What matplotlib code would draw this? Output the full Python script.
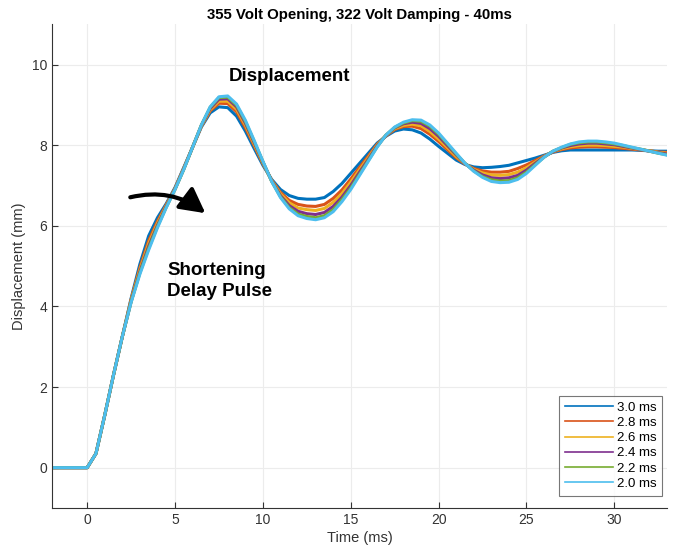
import numpy as np
import matplotlib
matplotlib.use('Agg')
import matplotlib.pyplot as plt

plt.rcParams['font.family'] = ['Liberation Sans', 'DejaVu Sans']

# time axis (ms), shared by every trace
time_ms = np.arange(-2, 33.01, 0.5)

labels = ['3.0 ms', '2.8 ms', '2.6 ms', '2.4 ms', '2.2 ms', '2.0 ms']
colors = ['#0072BD', '#D95319', '#EDB120', '#7E2F8E', '#77AC30', '#4DBEEE']

pre = [0, 0, 0, 0, 0, 0.35, 1.3, 2.3, 3.25]

disp_30 = pre + [4.2, 5.05, 5.75, 6.2, 6.55, 6.95, 7.45, 7.95, 8.45, 8.8, 8.95, 8.93, 8.72, 8.35, 7.92, 7.5,
                 7.15, 6.9, 6.75, 6.68, 6.66, 6.66, 6.7, 6.85, 7.05, 7.3, 7.55, 7.8, 8.05, 8.22, 8.35, 8.4,
                 8.38, 8.3, 8.15, 7.97, 7.8, 7.63, 7.52, 7.46, 7.44, 7.45, 7.47, 7.5, 7.56, 7.62, 7.68, 7.75,
                 7.82, 7.86, 7.88, 7.88, 7.88, 7.88, 7.88, 7.88, 7.88, 7.88, 7.87, 7.86, 7.85, 7.85]
disp_28 = pre + [4.17, 4.96, 5.63, 6.11, 6.52, 6.93, 7.43, 7.95, 8.47, 8.85, 9.04, 9.03, 8.83, 8.44, 7.99, 7.54,
                 7.13, 6.83, 6.63, 6.53, 6.49, 6.48, 6.53, 6.68, 6.89, 7.16, 7.45, 7.73, 8.02, 8.23, 8.39, 8.46,
                 8.47, 8.41, 8.27, 8.09, 7.89, 7.69, 7.53, 7.42, 7.36, 7.33, 7.33, 7.35, 7.42, 7.51, 7.62, 7.73,
                 7.83, 7.89, 7.93, 7.95, 7.96, 7.96, 7.95, 7.94, 7.92, 7.9, 7.88, 7.86, 7.83, 7.82]
disp_26 = pre + [4.15, 4.91, 5.56, 6.06, 6.5, 6.92, 7.42, 7.95, 8.48, 8.88, 9.09, 9.09, 8.89, 8.5, 8.03, 7.56,
                 7.12, 6.79, 6.57, 6.44, 6.4, 6.38, 6.43, 6.58, 6.8, 7.08, 7.39, 7.69, 8.0, 8.24, 8.41, 8.49,
                 8.52, 8.48, 8.34, 8.15, 7.94, 7.72, 7.54, 7.4, 7.31, 7.26, 7.25, 7.27, 7.33, 7.44, 7.58, 7.72,
                 7.84, 7.91, 7.96, 7.99, 8.0, 8.0, 7.99, 7.97, 7.95, 7.92, 7.89, 7.86, 7.82, 7.8]
disp_24 = pre + [4.12, 4.86, 5.49, 6.01, 6.48, 6.91, 7.41, 7.95, 8.49, 8.91, 9.14, 9.15, 8.95, 8.55, 8.07, 7.58,
                 7.11, 6.75, 6.5, 6.36, 6.3, 6.28, 6.33, 6.48, 6.71, 7.0, 7.33, 7.65, 7.98, 8.24, 8.43, 8.53,
                 8.57, 8.54, 8.41, 8.22, 7.99, 7.76, 7.54, 7.38, 7.26, 7.19, 7.17, 7.19, 7.25, 7.38, 7.55, 7.71,
                 7.84, 7.93, 7.99, 8.03, 8.05, 8.05, 8.03, 8.01, 7.97, 7.93, 7.89, 7.85, 7.81, 7.78]
disp_22 = pre + [4.11, 4.83, 5.44, 5.98, 6.46, 6.9, 7.4, 7.95, 8.5, 8.94, 9.18, 9.19, 8.99, 8.59, 8.1, 7.59,
                 7.1, 6.72, 6.45, 6.29, 6.23, 6.2, 6.25, 6.4, 6.65, 6.94, 7.28, 7.62, 7.96, 8.25, 8.44, 8.55,
                 8.61, 8.59, 8.47, 8.27, 8.03, 7.78, 7.55, 7.36, 7.22, 7.14, 7.11, 7.12, 7.19, 7.33, 7.52, 7.7,
                 7.85, 7.94, 8.02, 8.06, 8.08, 8.08, 8.06, 8.03, 7.99, 7.94, 7.9, 7.85, 7.8, 7.76]
disp_20 = pre + [4.1, 4.8, 5.4, 5.95, 6.45, 6.9, 7.4, 7.95, 8.5, 8.95, 9.2, 9.22, 9.02, 8.62, 8.12, 7.6,
                 7.1, 6.7, 6.42, 6.25, 6.18, 6.15, 6.2, 6.35, 6.6, 6.9, 7.25, 7.6, 7.95, 8.25, 8.45, 8.57,
                 8.63, 8.62, 8.5, 8.3, 8.05, 7.8, 7.55, 7.35, 7.2, 7.1, 7.07, 7.08, 7.15, 7.3, 7.5, 7.7,
                 7.85, 7.95, 8.03, 8.08, 8.1, 8.1, 8.08, 8.05, 8.0, 7.95, 7.9, 7.85, 7.8, 7.75]

series = [disp_30, disp_28, disp_26, disp_24, disp_22, disp_20]

fig = plt.figure(figsize=(6.8, 5.5), dpi=100)
ax = fig.add_axes([0.0765, 0.0764, 0.9045, 0.8796])

for vals, lab, col in zip(series, labels, colors):
    ax.plot(time_ms, vals, color=col, lw=2.2, label=lab)

ax.set_xlim(-2, 33)
ax.set_ylim(-1, 11)
ax.set_xticks([0, 5, 10, 15, 20, 25, 30])
ax.set_yticks([0, 2, 4, 6, 8, 10])
ax.grid(True, color='#ececec', lw=0.8)
ax.set_axisbelow(True)
ax.tick_params(direction='in', labelsize=10, colors='#333333', length=4)
for s in ['top', 'right']:
    ax.spines[s].set_visible(False)
for s in ['left', 'bottom']:
    ax.spines[s].set_color('#333333')

ax.set_xlabel('Time (ms)', fontsize=10.5, color='#333333', labelpad=3)
ax.set_ylabel('Displacement (mm)', fontsize=10.5, color='#333333', labelpad=4)
ax.set_title('355 Volt Opening, 322 Volt Damping - 40ms', fontsize=10.8, fontweight='bold', pad=4)

ax.text(8.05, 9.7, 'Displacement', fontsize=13.5, fontweight='bold', va='center', ha='left')
ax.text(4.55, 4.62, 'Shortening\nDelay Pulse', fontsize=13.5, fontweight='bold', va='center', ha='left',
        linespacing=1.3)
ax.annotate('', xy=(6.85, 6.27), xytext=(2.3, 6.69),
            arrowprops=dict(arrowstyle='-|>,head_length=1.5,head_width=0.8', color='black', lw=3,
                            connectionstyle='arc3,rad=-0.25'))

leg = ax.legend(loc='lower right', bbox_to_anchor=(1.003, 0.012), fontsize=9.5, frameon=True,
                fancybox=False, handlelength=3.6, labelspacing=0.22, borderpad=0.45, handletextpad=0.3)
leg.get_frame().set_edgecolor('#555555')
leg.get_frame().set_linewidth(0.8)
for line in leg.get_lines():
    line.set_linewidth(1.2)

fig.savefig('out.png', dpi=100)
